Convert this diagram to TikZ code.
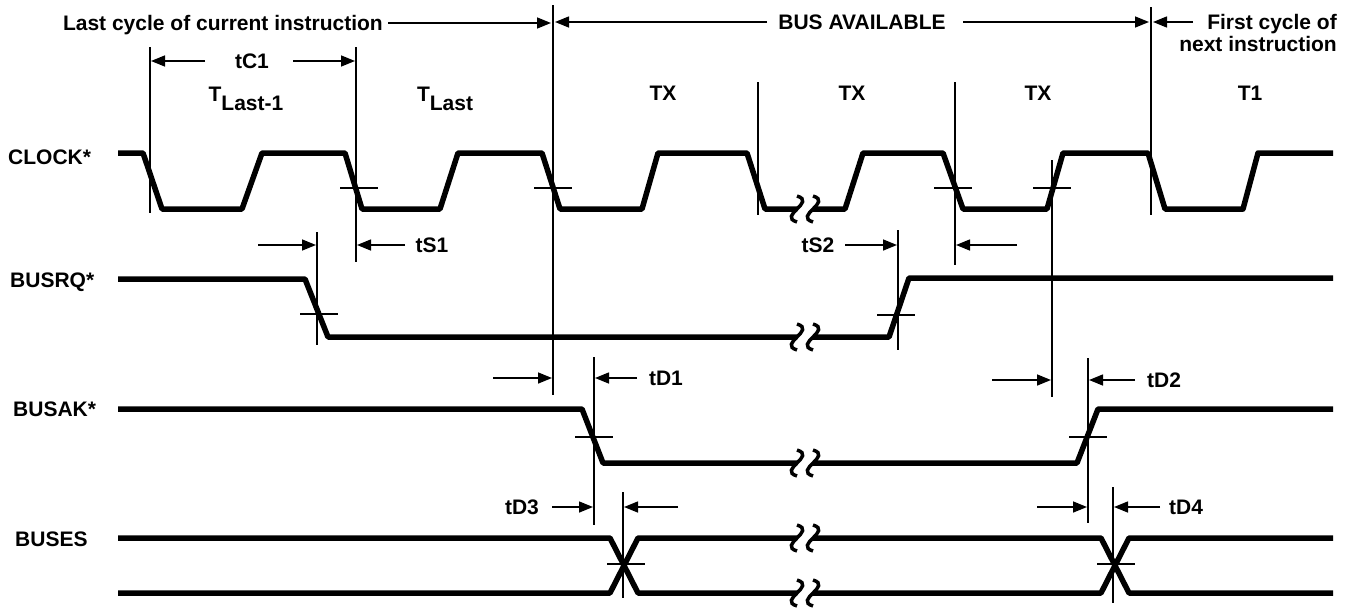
\documentclass[tikz,border=0pt]{standalone}
\usepackage{fontspec}
\setmainfont{Liberation Sans}
\usetikzlibrary{arrows.meta}
\tikzset{
	wave/.style={line width=5.5pt, line join=round},
	thinline/.style={line width=1.5pt},
	dimarrow/.style={line width=1.5pt, -{Triangle[length=14pt,width=11pt]}},
	lbl/.style={font=\fontsize{21}{21}\selectfont\bfseries, inner sep=0pt, anchor=base},
	brkwave/.pic={\draw[line width=3.5pt] (0,-13) .. controls (20,-7) and (-20,7) .. (0,13);}
}
\begin{document}
\begin{tikzpicture}[x=1pt, y=-1pt]
	\useasboundingbox (0,0) rectangle (1348,613);
	\def\clkhi{153}
	\def\clklo{209}
	% texts
	\node[lbl, anchor=base east] (lastcyc) at (383,30) {Last cycle of current instruction};
	\node[lbl] (busavail) at (862,29) {BUS AVAILABLE};
	\node[lbl, anchor=base east] (firstcyc) at (1337,29) {First cycle of};
	\node[lbl, anchor=base east] (nextinstr) at (1337,51) {next instruction};
	\node[lbl] (tc1) at (252,68) {tC1};
	\node[lbl] (tlasta) at (246,101) {T\raisebox{-9pt}{Last-1}};
	\node[lbl] (tlastb) at (445,101) {T\raisebox{-9pt}{Last}};
	\node[lbl] (txa) at (663,100) {TX};
	\node[lbl] (txb) at (852,100) {TX};
	\node[lbl] (txc) at (1038,100) {TX};
	\node[lbl] (tone) at (1250,100) {T1};
	\node[lbl, anchor=base west] (clk) at (8,164) {CLOCK*};
	\node[lbl, anchor=base west] (busrq) at (10,287) {BUSRQ*};
	\node[lbl, anchor=base west] (busak) at (13,416) {BUSAK*};
	\node[lbl, anchor=base west] (buses) at (15,546) {BUSES};
	\node[lbl] (ts1) at (432,252) {tS1};
	\node[lbl] (ts2) at (818,252) {tS2};
	\node[lbl] (td1) at (666,385) {tD1};
	\node[lbl] (td2) at (1164,387) {tD2};
	\node[lbl] (td3) at (522,514) {tD3};
	\node[lbl] (td4) at (1186,514) {tD4};

	% reference lines
	\foreach \x/\ya/\yb in {150/47/213, 356/47/262, 553/5/395, 758/82/215,
			955/82/265, 1052/160/397, 1151/7/215, 317/232/345, 898/230/350,
			594/357/525, 623/492/598, 1088/358/523, 1113/487/603}{%
		\draw[thinline] (\x,\ya) -- (\x,\yb);
	}
	\foreach \x/\y in {359/188, 553/188, 953/188, 1052/188, 319/314, 896/315,
			594/437, 1088/437, 626/564, 1116/564}{%
		\draw[thinline] (\x-19,\y) -- (\x+19,\y);
	}
	% timing arrows
	\foreach \xa/\xb/\y in {388/551/23, 767/555/22, 963/1149/22, 1193/1153/22,
			205/151/61, 293/355/61, 258/316/245, 405/357/245, 845/897/245,
			1017/956/245, 493/552/378, 637/595/378, 992/1051/380, 1135/1089/380,
			552/593/507, 678/624/507, 1037/1087/507, 1160/1114/507}{%
		\draw[dimarrow] (\xa,\y) -- (\xb,\y);
	}

	% waveforms
	\draw[wave] (118,\clkhi) -- (143,\clkhi) -- (162,\clklo) -- (242,\clklo) -- (262,\clkhi)
		-- (345,\clkhi) -- (362,\clklo) -- (440,\clklo) -- (458,\clkhi) -- (542,\clkhi)
		-- (560,\clklo) -- (642,\clklo) -- (658,\clkhi) -- (747,\clkhi) -- (765,\clklo)
		-- (797,\clklo);
	\draw[wave] (813,\clklo) -- (845,\clklo) -- (863,\clkhi) -- (943,\clkhi) -- (963,\clklo)
		-- (1047,\clklo) -- (1063,\clkhi) -- (1148,\clkhi) -- (1165,\clklo) -- (1243,\clklo)
		-- (1258,\clkhi) -- (1333,\clkhi);
	\draw[wave] (118,279) -- (305,279) -- (328,337) -- (797,337);
	\draw[wave] (813,337) -- (889,337) -- (909,278) -- (1333,278);
	\draw[wave] (118,409) -- (582,409) -- (603,463) -- (797,463);
	\draw[wave] (813,463) -- (1077,463) -- (1098,409) -- (1333,409);
	\draw[wave] (118,538) -- (610,538) -- (638,593) -- (797,593);
	\draw[wave] (118,593) -- (610,593) -- (638,538) -- (797,538);
	\draw[wave] (813,593) -- (1101,593) -- (1129,538) -- (1333,538);
	\draw[wave] (813,538) -- (1101,538) -- (1129,593) -- (1333,593);
	\foreach \y in {\clklo, 337, 463, 538, 593}{%
		\pic at (797,\y) {brkwave};
		\pic at (813,\y) {brkwave};
	}
\end{tikzpicture}
\end{document}
